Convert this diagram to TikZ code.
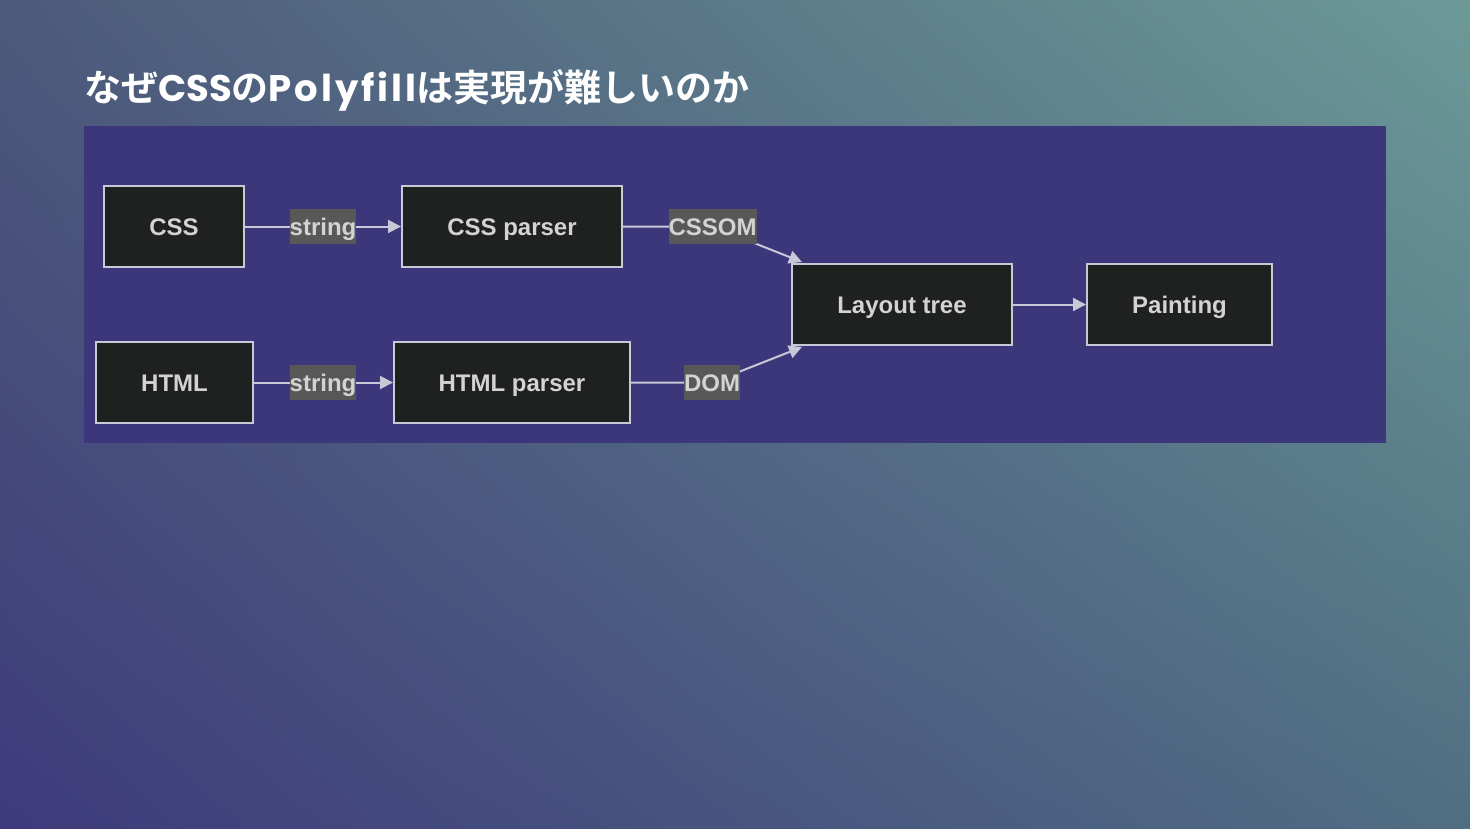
\documentclass[tikz,border=0pt]{standalone}
\usepackage{fontspec}
\setmainfont{Liberation Sans}
\newfontfamily\jpfont{Noto Sans CJK JP}[BoldFont={* Bold}]
\newfontfamily\latinfont{Poppins}
\newfontfamily\latinwide{Poppins}[LetterSpace=8]
\usetikzlibrary{positioning, calc, arrows.meta, shadings}
\definecolor{bgdeep}{HTML}{3E3A7C}
\definecolor{bgteal}{HTML}{6C9A98}
\definecolor{bgslate}{HTML}{4C5A7A}
\definecolor{bgmid}{HTML}{506E82}
\definecolor{panelbg}{HTML}{3C367A}
\definecolor{boxfill}{HTML}{1F2020}
\definecolor{boxline}{HTML}{C8C8D6}
\definecolor{boxtext}{HTML}{D3D3D3}
\definecolor{tagbg}{HTML}{585858}

\begin{document}
\begin{tikzpicture}[
    x=1pt, y=-1pt,
    stage/.style={draw=boxline, line width=2pt, fill=boxfill, text=boxtext,
      minimum height=81pt, inner sep=0pt, text height=17pt, text depth=0pt,
      font=\fontsize{24}{28}\selectfont\bfseries},
    tag/.style={fill=tagbg, text=boxtext, inner xsep=0pt, inner ysep=0pt,
      minimum height=35pt, text height=17pt, text depth=0pt,
      font=\fontsize{24}{28}\selectfont\bfseries},
    flow/.style={draw=boxline, line width=2pt, -{Triangle[length=13pt, width=13pt]}},
  ]
  \useasboundingbox (0,0) rectangle (1470,828);
  % background
  \shade[lower left=bgdeep, upper right=bgteal, upper left=bgslate, lower right=bgmid]
    (0,0) rectangle (1470,828);
  \node[anchor=base west, text=white, inner sep=0pt,
    font=\jpfont\bfseries\fontsize{37}{42}\selectfont] (title) at (84,101)
    {なぜ{\latinfont\bfseries CSS}の{\latinwide\bfseries Polyfill}は実現が難しいのか};
  \fill[panelbg] (84,126) rectangle (1386,443);
  % stages
  \node[stage, minimum width=140pt] (css) at (174,226.5) {CSS};
  \node[stage, minimum width=220pt] (cssp) at (512,226.5) {CSS parser};
  \node[stage, minimum width=157pt] (html) at (174.5,382.5) {HTML};
  \node[stage, minimum width=236pt] (htmlp) at (512,382.5) {HTML parser};
  \node[stage, minimum width=220pt] (layout) at (902,304.5) {Layout tree};
  \node[stage, minimum width=185pt] (paint) at (1179.5,304.5) {Painting};
  % edge labels
  \coordinate (tagcss) at (323,226.5);
  \coordinate (taghtml) at (323,382.5);
  \coordinate (tagom) at (712.5,226.5);
  \coordinate (tagdom) at (712,382.5);
  \coordinate (inom) at ($(layout.north west)+(11,-1)$);
  \coordinate (indom) at ($(layout.south west)+(11,1)$);
  % connectors
  \draw[flow] (css) -- (cssp);
  \draw[flow] (html) -- (htmlp);
  \draw[flow] (cssp.east) to[out=0, in=180] (tagom) -- (inom);
  \draw[flow] (htmlp.east) to[out=0, in=180] (tagdom) -- (indom);
  \draw[flow] (layout) -- (paint);
  \node[tag] (s1) at (tagcss) {string};
  \node[tag] (s2) at (taghtml) {string};
  \node[tag] (om) at (tagom) {CSSOM};
  \node[tag] (dom) at (tagdom) {DOM};
\end{tikzpicture}
\end{document}
